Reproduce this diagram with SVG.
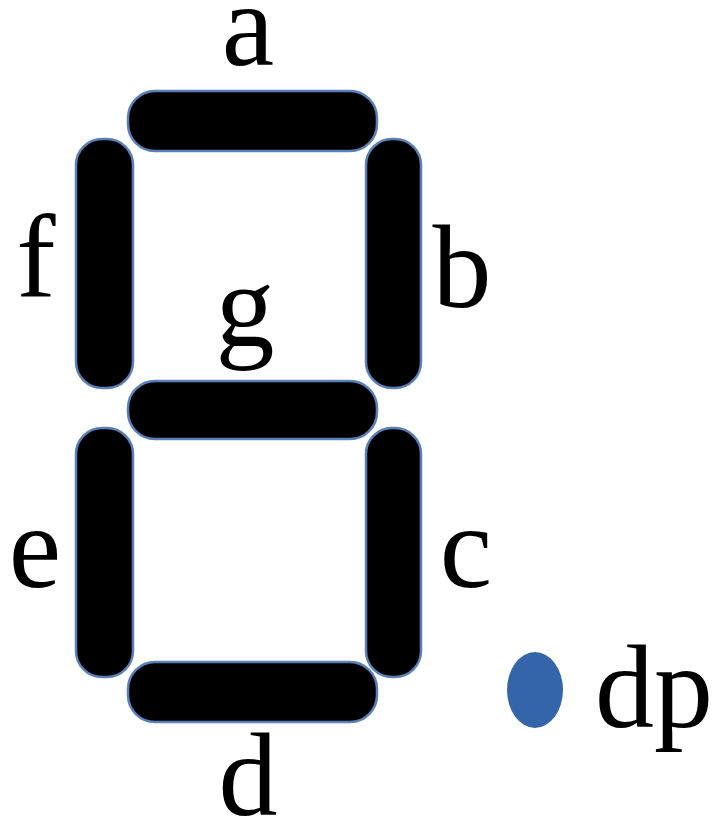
<svg xmlns="http://www.w3.org/2000/svg" width="712" height="820" viewBox="0 0 712 820">
<style>
.seg{fill:#000;stroke:#5b80b8;stroke-width:2.5}
.lbl{font-family:"Liberation Serif","Times New Roman",serif;font-size:118px;fill:#000;text-anchor:middle}
</style>
<rect width="712" height="820" fill="#fff"/>
<g id="seg-a"><rect class="seg" x="128" y="91" width="249" height="60" rx="27" ry="27"/><text class="lbl" x="248" y="65">a</text></g>
<g id="seg-b"><rect class="seg" x="366" y="139" width="55" height="249" rx="26" ry="26"/><text class="lbl" x="462" y="307">b</text></g>
<g id="seg-c"><rect class="seg" x="366" y="428" width="55" height="249" rx="26" ry="26"/><text class="lbl" x="466" y="587">c</text></g>
<g id="seg-d"><rect class="seg" x="128" y="662" width="249" height="60" rx="27" ry="27"/><text class="lbl" x="248" y="815">d</text></g>
<g id="seg-e"><rect class="seg" x="76" y="428" width="57" height="249" rx="26" ry="26"/><text class="lbl" x="35" y="587">e</text></g>
<g id="seg-f"><rect class="seg" x="76" y="139" width="57" height="249" rx="26" ry="26"/><text class="lbl" x="36" y="297">f</text></g>
<g id="seg-g"><rect class="seg" x="128" y="381" width="249" height="58" rx="27" ry="27"/><text class="lbl" x="245" y="346">g</text></g>
<g id="seg-dp"><ellipse cx="535" cy="690" rx="28" ry="38" fill="#3465a8"/><text class="lbl" x="595" y="727" style="text-anchor:start">dp</text></g>
<g id="connectors"></g>
</svg>
